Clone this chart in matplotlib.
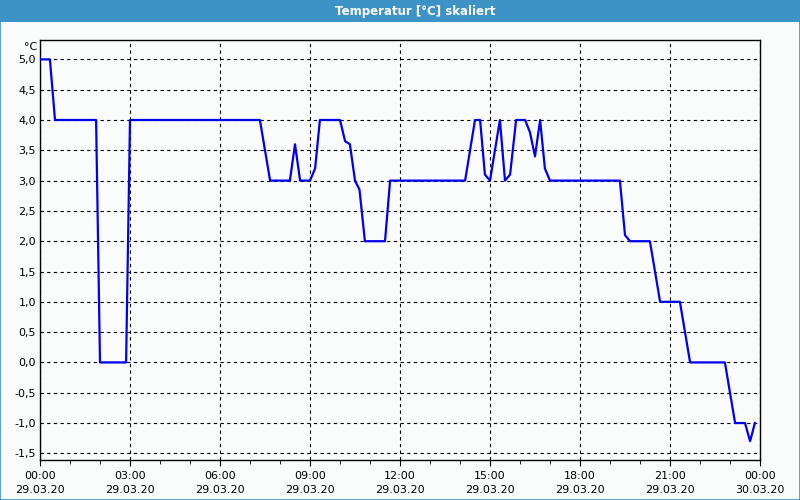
import matplotlib
matplotlib.use("Agg")
import matplotlib.pyplot as plt
from matplotlib.patches import Rectangle
from matplotlib.ticker import MultipleLocator, FuncFormatter

# time in hours since 29.03.20 00:00, temperature in °C
hours = [0.0, 0.33, 0.5, 1.87, 2.0, 2.87, 3.0, 7.33, 7.5, 7.67, 8.33, 8.5, 8.67,
         9.0, 9.17, 9.33, 10.0, 10.17, 10.33, 10.5, 10.65, 10.83, 11.5, 11.67,
         14.17, 14.5, 14.67, 14.83, 15.0, 15.33, 15.5, 15.67, 15.87, 16.17,
         16.33, 16.5, 16.67, 16.83, 17.0, 19.33, 19.5, 19.67, 20.33, 20.67,
         21.33, 21.67, 22.83, 23.17, 23.5, 23.67, 23.83]
temps = [5.0, 5.0, 4.0, 4.0, 0.0, 0.0, 4.0, 4.0, 3.5, 3.0, 3.0, 3.6, 3.0,
         3.0, 3.2, 4.0, 4.0, 3.65, 3.6, 3.0, 2.85, 2.0, 2.0, 3.0,
         3.0, 4.0, 4.0, 3.1, 3.0, 4.0, 3.0, 3.1, 4.0, 4.0,
         3.8, 3.4, 4.0, 3.2, 3.0, 3.0, 2.1, 2.0, 2.0, 1.0,
         1.0, 0.0, 0.0, -1.0, -1.0, -1.3, -1.0]

tick_hours = [0, 3, 6, 9, 12, 15, 18, 21, 24]
tick_labels = ["00:00\n29.03.20", "03:00\n29.03.20", "06:00\n29.03.20",
               "09:00\n29.03.20", "12:00\n29.03.20", "15:00\n29.03.20",
               "18:00\n29.03.20", "21:00\n29.03.20", "00:00\n30.03.20"]

bg = "#fafcfb"
bar_blue = "#3d93c5"

plt.rcParams["font.family"] = ["DejaVu Sans"]
fig = plt.figure(figsize=(8, 5), dpi=100, facecolor=bg)

# title bar + outer border
fig.patches.append(Rectangle((0, 478 / 500), 1, 22 / 500, transform=fig.transFigure,
                             facecolor=bar_blue, edgecolor="none", zorder=0))
fig.patches.append(Rectangle((0.0006, 0.001), 0.9988, 0.998, transform=fig.transFigure,
                             facecolor="none", edgecolor=bar_blue, lw=1.2, zorder=1))
fig.text(0.519, 0.978, "Temperatur [°C] skaliert", color="white", fontsize=8.5,
         fontweight="bold", ha="center", va="center")

ax = fig.add_axes([0.05, 0.08, 0.90, 0.84])
ax.set_facecolor(bg)
ax.plot(hours, temps, color="#0000ee", lw=1.6, zorder=3)

ax.set_xlim(0, 24)
ax.set_ylim(-1.61, 5.32)
ax.set_xticks(tick_hours)
ax.set_xticklabels(tick_labels, fontsize=8, linespacing=1.5)
ax.xaxis.set_minor_locator(MultipleLocator(1))
ax.yaxis.set_major_locator(MultipleLocator(0.5))
ax.yaxis.set_major_formatter(FuncFormatter(lambda v, p: f"{v:.1f}".replace(".", ",")))
ax.tick_params(axis="both", which="both", direction="out", color="black", labelsize=8)
ax.tick_params(axis="x", which="major", length=4, pad=4)
ax.tick_params(axis="x", which="minor", length=3)
ax.tick_params(axis="y", length=0, pad=3)

ax.grid(True, which="major", color="black", linestyle=(0, (3, 3)), lw=0.8)
for s in ax.spines.values():
    s.set_color("black")
    s.set_linewidth(1.0)

fig.text(0.047, 0.905, "°C", fontsize=8, ha="right", va="center")

fig.savefig("out.png", dpi=100, facecolor=bg)
